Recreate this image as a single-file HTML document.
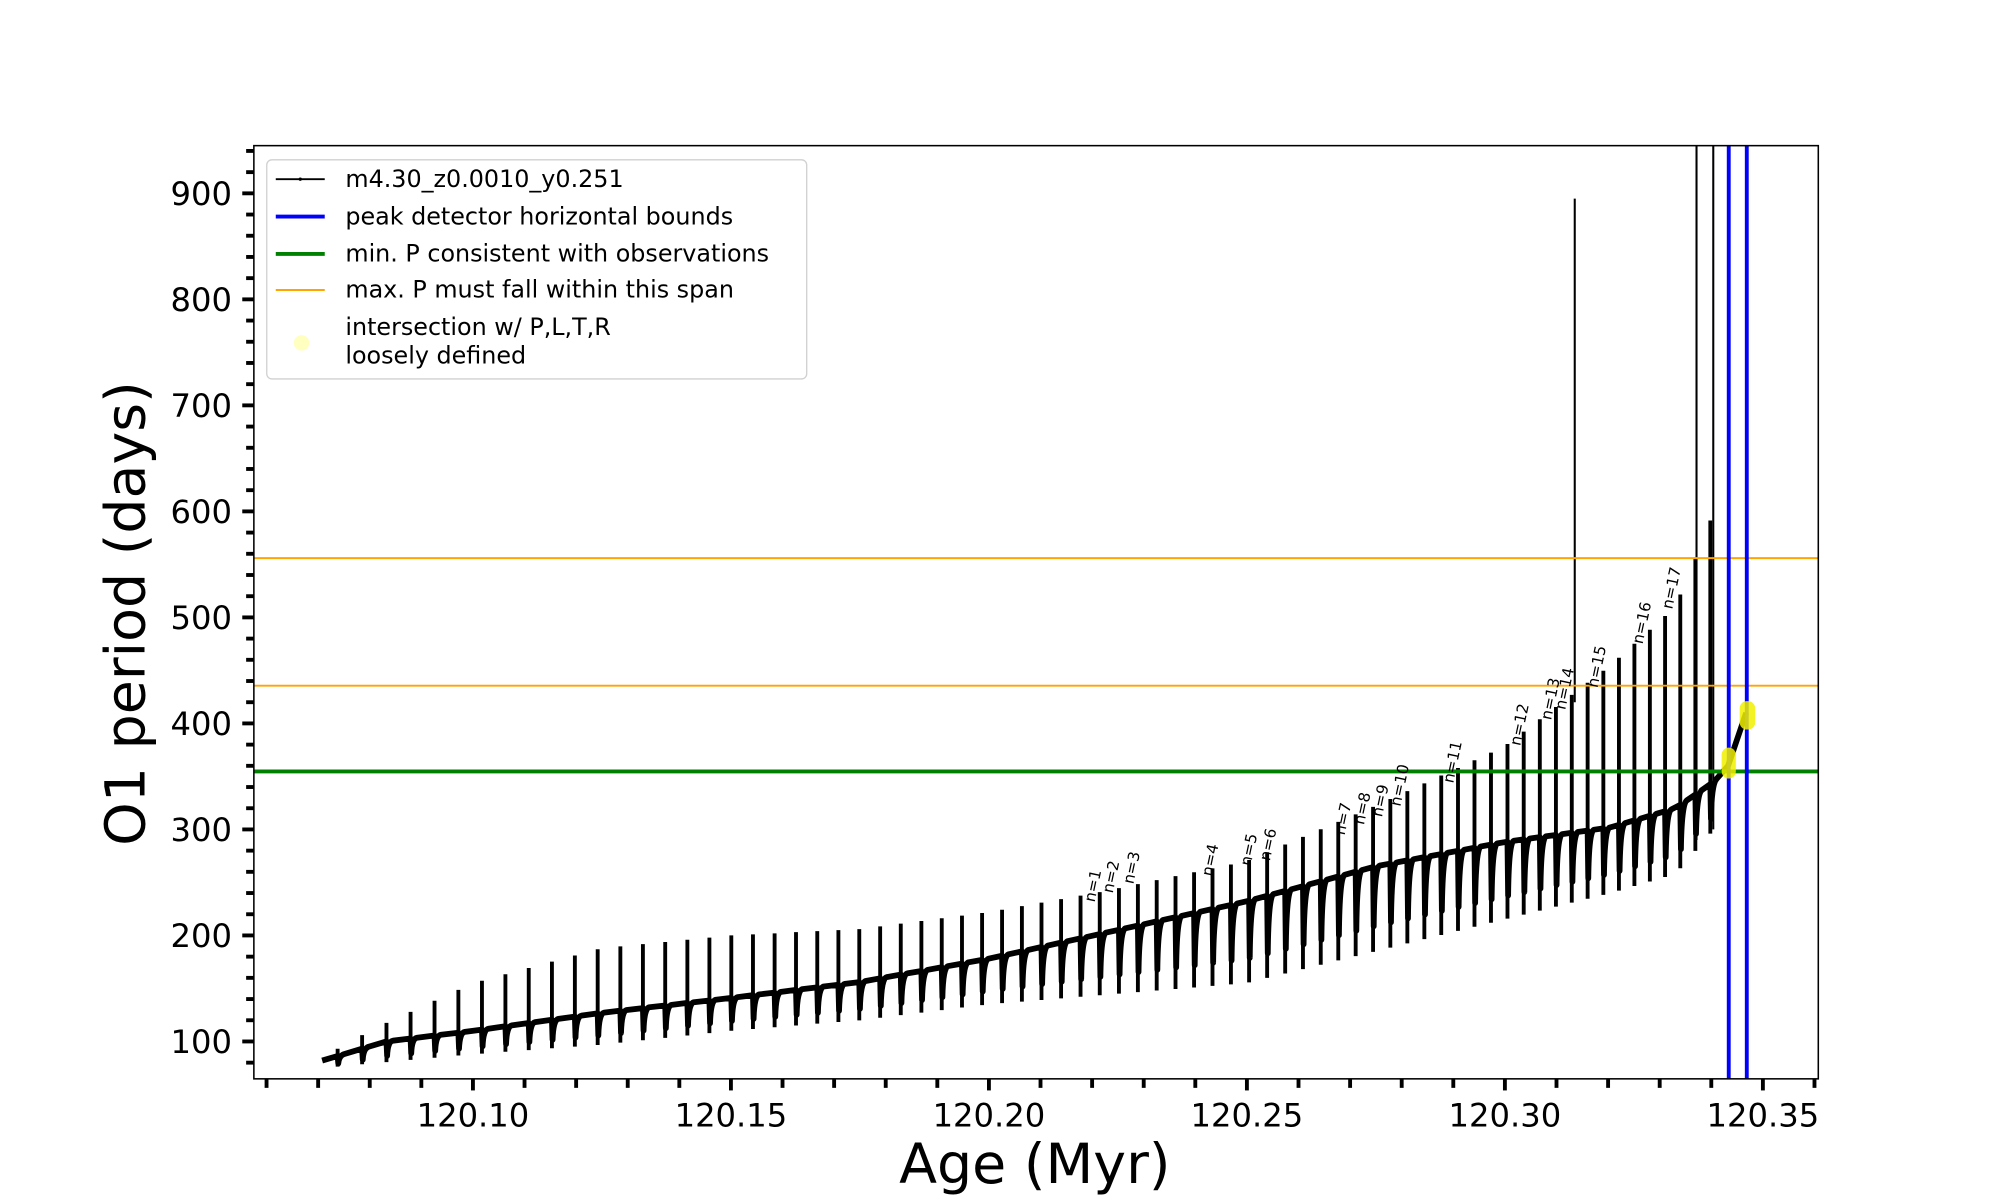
<!DOCTYPE html>
<html><head><meta charset="utf-8"><style>
html,body{margin:0;padding:0;background:#fff;}
svg{display:block;font-family:"DejaVu Sans","Liberation Sans",sans-serif;}
</style></head><body>
<svg id="s" width="2000" height="1200" viewBox="0 0 1552 931" preserveAspectRatio="none" xmlns="http://www.w3.org/2000/svg">
<rect width="1552" height="931" fill="#fff"/>
<g id="data"></g>
<line x1="197" y1="433" x2="1411" y2="433" stroke="orange" stroke-width="1.5"/>
<line x1="197" y1="532" x2="1411" y2="532" stroke="orange" stroke-width="1.5"/>
<line x1="197" y1="598.5" x2="1411" y2="598.5" stroke="green" stroke-width="3"/>
<line x1="1341.5" y1="113" x2="1341.5" y2="837" stroke="blue" stroke-width="3"/>
<line x1="1355.5" y1="113" x2="1355.5" y2="837" stroke="blue" stroke-width="3"/>
<g fill="#f0f000" opacity="0.85">
<rect x="1336" y="580" width="11" height="24" rx="5.5"/>
<rect x="1350" y="544" width="12" height="22" rx="5.5"/>
</g>
<rect x="197" y="113" width="1214" height="724" fill="none" stroke="#000" stroke-width="1.2"/>
<g id="ticks" stroke="#000"></g>
<g id="labels" font-size="25" fill="#000"></g>
<g id="nl" font-size="12" fill="#000"></g>
<text x="803" y="918" font-size="43" text-anchor="middle">Age (Myr)</text>
<text transform="translate(112,476) rotate(-90)" font-size="43" text-anchor="middle">O1 period (days)</text>
<g>
<rect x="207" y="124" width="419" height="170" rx="4" fill="#fff" fill-opacity="0.85" stroke="#d0d0d0"/>
<line x1="214" y1="139" x2="252" y2="139" stroke="#000" stroke-width="1.5"/><circle cx="233" cy="139" r="1.3"/>
<line x1="214" y1="168" x2="252" y2="168" stroke="blue" stroke-width="3"/>
<line x1="214" y1="197" x2="252" y2="197" stroke="green" stroke-width="3"/>
<line x1="214" y1="225" x2="252" y2="225" stroke="orange" stroke-width="1.5"/>
<ellipse cx="234" cy="266" rx="6" ry="6" fill="#ffffc0"/>
<g font-size="18.5" fill="#000">
<text x="268" y="145">m4.30_z0.0010_y0.251</text>
<text x="268" y="174">peak detector horizontal bounds</text>
<text x="268" y="203">min. P consistent with observations</text>
<text x="268" y="231">max. P must fall within this span</text>
<text x="268" y="260">intersection w/ P,L,T,R</text>
<text x="268" y="282">loosely defined</text>
</g>
</g>
</svg>
<script>
(function(){
var NS="http://www.w3.org/2000/svg";
function Y(p){return 150+(900-p)*0.8225;}
function X(a){return 367+(a-120.10)*4004;}
function el(t,a,par,txt){var e=document.createElementNS(NS,t);for(var k in a)e.setAttribute(k,a[k]);if(txt!=null)e.textContent=txt;document.getElementById(par).appendChild(e);return e;}
function interp(pts,x){if(x<=pts[0][0])return pts[0][1];for(var i=1;i<pts.length;i++){if(x<=pts[i][0]){var a=pts[i-1],b=pts[i];return a[1]+(b[1]-a[1])*(x-a[0])/(b[0]-a[0]);}}return pts[pts.length-1][1];}
var base=[[250,82],[300,100],[367,110],[467,127],[567,141],[667,156],[767,178],[867,205],[967,232],[1067,265],[1167,288],[1250,302],[1300,320],[1330,345],[1341,360],[1355,410]];
var top=[[250,85],[290,112],[367,155],[467,188],[567,200],[667,206],[767,222],[850,240],[967,270],[1067,322],[1167,378],[1250,455],[1300,510],[1330,600]];
var bot=[[250,75],[367,88],[467,97],[567,110],[667,120],[767,135],[867,145],[967,155],[1067,185],[1167,215],[1250,240],[1300,258],[1330,300]];
var xs=[];var x=262;while(x<1332){xs.push(x);var s=19-(x-262)*(7.5/1068);x+=s;}
var d="M250 "+Y(base[0][1]).toFixed(1);
var sp="";
for(var i=0;i<xs.length;i++){
 var xi=xs[i];var b=interp(base,xi);
 d+=" L"+xi.toFixed(1)+" "+Y(b).toFixed(1);
 var t=interp(top,xi),bt=interp(bot,xi);
 sp+="M"+xi.toFixed(1)+" "+Y(t).toFixed(1)+"V"+Y(bt).toFixed(1);
 d+=" L"+(xi+0.5).toFixed(1)+" "+Y(bt+(b-bt)*0.3).toFixed(1)+" Q"+(xi+1).toFixed(1)+" "+Y(b).toFixed(1)+" "+(xi+5).toFixed(1)+" "+Y(interp(base,xi+5)).toFixed(1);
}
d+=" L1341 "+Y(360)+" L1355 "+Y(410);
el("path",{d:sp,stroke:"#000","stroke-width":"3",fill:"none"},"data");
el("path",{d:d,stroke:"#000","stroke-width":"4.5",fill:"none","stroke-linejoin":"round"},"data");
el("path",{d:"M1222 "+Y(895)+"V"+Y(420)+"M1316.5 113V"+Y(290)+"M1329.5 113V"+Y(300),stroke:"#000","stroke-width":"1.6",fill:"none"},"data");
el("path",{d:"M1342 "+Y(680)+"V"+Y(360)+"M1356 "+Y(598)+"V"+Y(420),stroke:"#000","stroke-width":"1.2","stroke-dasharray":"1 5",fill:"none"},"data");
for(var p=80;p<=940;p+=20){var yy=Y(p);if(yy<113||yy>837)continue;var maj=(p%100==0);
 el("line",{x1:197,x2:maj?188:191,y1:yy,y2:yy,"stroke-width":3},"ticks");
 if(maj) el("text",{x:180,y:yy+9,"text-anchor":"end"},"labels",String(p));}
for(var k=6;k<=36;k++){var a=120+k*0.01;var xx=X(a);if(xx<197||xx>1411)continue;var maj=(k%5==0);
 el("line",{x1:xx,x2:xx,y1:837,y2:maj?846:844,"stroke-width":3},"ticks");
 if(maj) el("text",{x:xx,y:874,"text-anchor":"middle"},"labels",a.toFixed(2));}
var nl=[[852,688],[866,681],[882,674],[943,668],[973,660],[988,656],[1046,636],[1061,628],[1075,622],[1090,610],[1131,592],[1183,563],[1207,543],[1218,535],[1243,518],[1278,484],[1301,457]];
for(var j=0;j<nl.length;j++){el("text",{transform:"translate("+nl[j][0]+","+nl[j][1]+") rotate(-78)","text-anchor":"middle"},"nl","n="+(j+1));}
})();
</script>
</body></html>
